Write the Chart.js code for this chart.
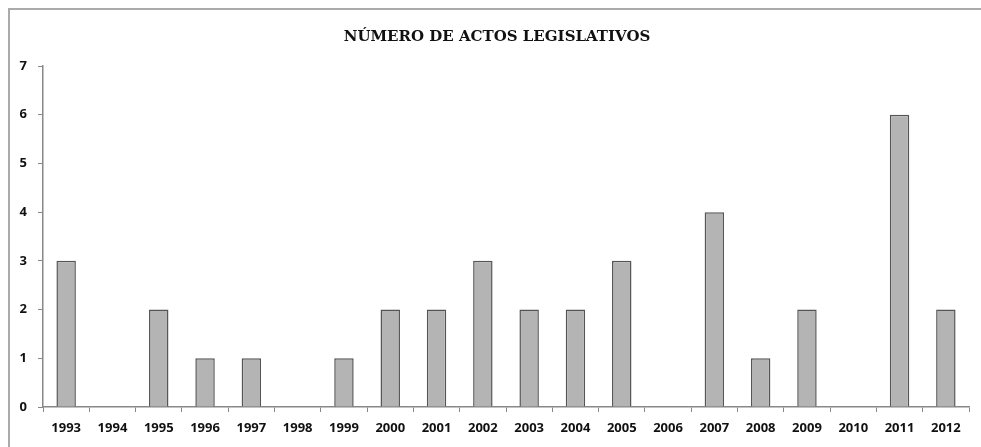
<!doctype html>
<html>
<head>
	<title>Actos legislativos</title>
	<script src="https://cdn.jsdelivr.net/npm/chart.js@4.4.0/dist/chart.umd.min.js"></script>
	<style>
		body { margin: 0; background: #fff; overflow: hidden; }
		#frame {
			position: absolute; left: 8px; top: 8px; width: 1000px; height: 500px;
			border-top: 2px solid #aaa; border-left: 2px solid #aaa;
		}
		#wrap { position: absolute; left: 0; top: 0; width: 981px; height: 447px; }
	</style>
</head>
<body>
	<div id="frame"></div>
	<div id="wrap"><canvas id="canvas" width="981" height="447"></canvas></div>
	<script>
		// años y número de actos legislativos
		var years = ['1993','1994','1995','1996','1997','1998','1999','2000','2001','2002',
			'2003','2004','2005','2006','2007','2008','2009','2010','2011','2012'];
		var actos = [3, 0, 2, 1, 1, 0, 1, 2, 2, 3, 2, 2, 3, 0, 4, 1, 2, 0, 6, 2];
		var titleText = 'NÚMERO DE ACTOS LEGISLATIVOS';

		// the title in the original sits a bit right of centre
		var titleShift = {
			id: 'titleShift',
			afterLayout: function (c) { if (c.titleBlock) c.titleBlock.left += 25; }
		};

		var ctx = document.getElementById('canvas').getContext('2d');
		new Chart(ctx, {
			type: 'bar',
			data: {
				labels: years,
				datasets: [{
					data: actos,
					backgroundColor: '#b4b4b4',
					borderColor: '#555',
					borderWidth: 1.5,
					barPercentage: 0.42,
					categoryPercentage: 1
				}]
			},
			plugins: [titleShift],
			options: {
				responsive: false,
				animation: false,
				layout: { padding: { left: 0, right: 12, top: 0, bottom: 0 } },
				plugins: {
					legend: { display: false },
					tooltip: { enabled: false },
					title: {
						display: true,
						text: titleText,
						color: '#111',
						font: { family: 'DejaVu Serif', size: 15, weight: 'bold' },
						padding: { top: 28, bottom: 20 }
					}
				},
				scales: {
					x: {
						offset: true,
						grid: { offset: true, drawOnChartArea: false, tickLength: 5, color: '#888' },
						border: { color: '#888', width: 1.5 },
						ticks: {
							color: '#111', padding: 8, maxRotation: 0, autoSkip: false,
							font: { family: 'Open Sans', size: 13, weight: 'bold' }
						},
						afterFit: function (s) { s.height = 40; }
					},
					y: {
						min: 0, max: 7,
						grid: { drawOnChartArea: false, tickLength: 5, color: '#888' },
						border: { color: '#888', width: 1.5 },
						ticks: {
							stepSize: 1, color: '#111', padding: 11,
							font: { family: 'Open Sans', size: 13, weight: 'bold' }
						},
						afterFit: function (s) { s.width = 43; }
					}
				}
			}
		});
	</script>
</body>
</html>
